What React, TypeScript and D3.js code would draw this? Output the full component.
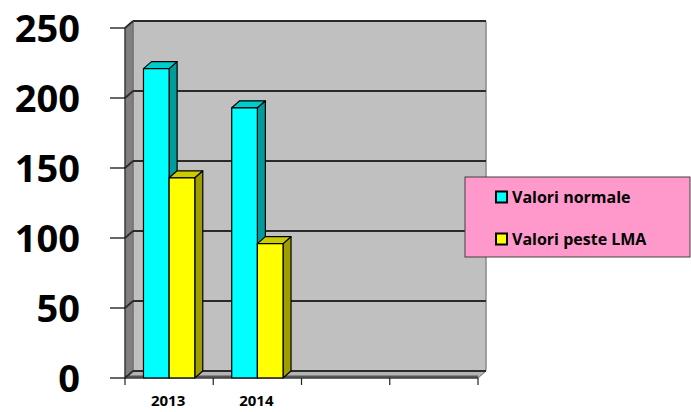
import * as d3 from 'd3';

// chart data
const categories = ['2013', '2014', 'c3', 'c4'];
const categoryLabels = ['2013', '2014', '', ''];
const seriesNames = ['Valori normale', 'Valori peste LMA'];
const valoriNormale = [221, 193, null, null];
const valoriPesteLMA = [143, 96, null, null];
const yTicks = [0, 50, 100, 150, 200, 250];

const W = 691;
const H = 412;
const DX = 8; // 3D depth offset
const DY = -7;
const FONT = '"Open Sans", Lato, sans-serif';

const SERIES = [
  { name: seriesNames[0], values: valoriNormale, front: '#00FFFF', side: '#009C9C', top: '#00CCCC' },
  { name: seriesNames[1], values: valoriPesteLMA, front: '#FFFF00', side: '#9E9E00', top: '#CCCC00' },
];

export default function App() {
  const x0 = d3.scaleBand<string>().domain(categories).range([125, 478]);
  const x1 = d3.scaleBand<string>().domain(seriesNames).range([0, x0.bandwidth()]).paddingInner(0).paddingOuter(0.72);
  const y = d3.scaleLinear().domain([0, 250]).range([378, 28]);

  const left = x0.range()[0];
  const right = x0.range()[1];
  const base = y(0);
  const top = y(250);

  return (
    <svg width={W} height={H} style={{ position: 'absolute', left: 0, top: 0, background: '#fff' }}>
      {/* back wall */}
      <rect x={left + DX} y={top + DY} width={right - left} height={base - top} fill="#C0C0C0" stroke="#8a8a8a" strokeWidth={1.5} rx={2} />
      {/* side wall */}
      <polygon points={`${left},${top} ${left + DX},${top + DY} ${left + DX},${base + DY} ${left},${base}`} fill="#808080" stroke="#6a6a6a" />
      {/* floor */}
      <polygon points={`${left},${base} ${right},${base} ${right + DX},${base + DY} ${left + DX},${base + DY}`} fill="#B4B4B4" stroke="#6a6a6a" />
      <line x1={left} x2={right} y1={base - 1.5} y2={base - 1.5} stroke="#555" strokeWidth={2} />

      {/* gridlines */}
      {yTicks.map((t) => (
        <g key={'g' + t}>
          <line x1={left + DX} x2={right + DX} y1={y(t) + DY} y2={y(t) + DY} stroke="#2a2a2a" strokeWidth={1.8} />
          <line x1={left} x2={left + DX} y1={y(t)} y2={y(t) + DY} stroke="#2a2a2a" strokeWidth={1.8} />
        </g>
      ))}

      {/* y axis */}
      <line x1={left} x2={left} y1={top} y2={base} stroke="#222" strokeWidth={1} />
      {yTicks.map((t) => (
        <g key={'t' + t}>
          <line x1={110} x2={left} y1={y(t)} y2={y(t)} stroke="#000" strokeWidth={1.2} />
          <text x={80} y={y(t)} dy="0.36em" textAnchor="end" fontFamily={FONT} fontWeight={700} fontSize={38} fill="#000">
            {t}
          </text>
        </g>
      ))}

      {/* bars */}
      {categories.map((c, ci) => (
        <g key={c}>
          {SERIES.map((s) => {
            const v = s.values[ci];
            if (v == null) return null;
            const bx = (x0(c) ?? 0) + (x1(s.name) ?? 0);
            const bw = x1.bandwidth();
            const by = y(v);
            return (
              <g key={s.name} stroke="#000" strokeWidth={1.2} strokeLinejoin="round">
                <polygon points={`${bx + bw},${by} ${bx + bw + DX},${by + DY} ${bx + bw + DX},${base + DY} ${bx + bw},${base}`} fill={s.side} />
                <polygon points={`${bx},${by} ${bx + DX},${by + DY} ${bx + bw + DX},${by + DY} ${bx + bw},${by}`} fill={s.top} />
                <rect x={bx} y={by} width={bw} height={base - by} fill={s.front} />
              </g>
            );
          })}
        </g>
      ))}

      {/* x axis */}
      <line x1={left} x2={right} y1={base} y2={base} stroke="#222" strokeWidth={1.2} />
      {[...categories.map((c) => x0(c) ?? 0), right].map((tx, i) => (
        <line key={'x' + i} x1={tx} x2={tx} y1={base} y2={base + 7} stroke="#222" strokeWidth={1.2} />
      ))}
      {categories.map((c, i) => (
        <text key={'l' + c} x={(x0(c) ?? 0) + x0.bandwidth() / 2 - 1} y={406} textAnchor="middle" fontFamily={FONT} fontWeight={700} fontSize={15} fill="#000">
          {categoryLabels[i]}
        </text>
      ))}

      {/* legend */}
      <rect x={465} y={177} width={225} height={80} fill="#FF99CC" stroke="#404040" strokeWidth={1} />
      {SERIES.map((s, i) => (
        <g key={'leg' + i}>
          <rect x={496} y={191.5 + i * 42} width={11} height={11} fill={s.front} stroke="#000" strokeWidth={2} />
          <text x={512} y={203 + i * 42} fontFamily={FONT} fontWeight={700} fontSize={16} fill="#000">
            {s.name}
          </text>
        </g>
      ))}
    </svg>
  );
}
